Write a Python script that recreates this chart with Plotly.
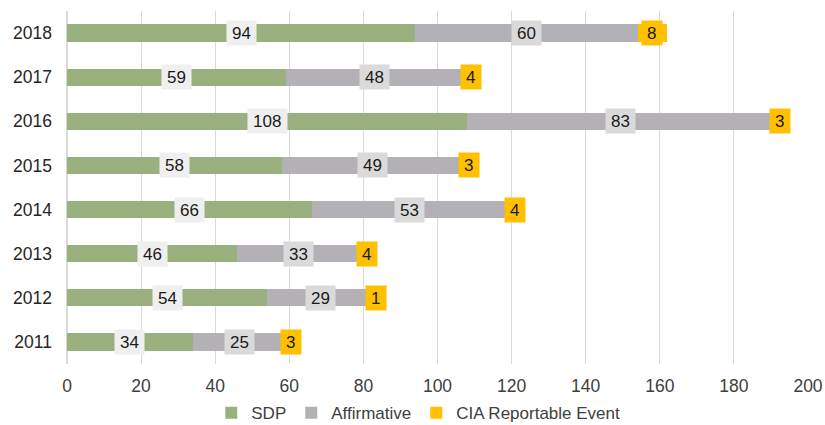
import plotly.graph_objects as go

years = ["2011", "2012", "2013", "2014", "2015", "2016", "2017", "2018"]
sdp = [34, 54, 46, 66, 58, 108, 59, 94]
affirmative = [25, 29, 33, 53, 49, 83, 48, 60]
cia = [3, 1, 4, 4, 3, 3, 4, 8]

series = [
    ("SDP", sdp, "#9BB07F", "#EFEFEF"),
    ("Affirmative", affirmative, "#B3B1B5", "#DADADA"),
    ("CIA Reportable Event", cia, "#FFC000", "#FFC000"),
]

fig = go.Figure()
annotations = []
base = [0] * len(years)
for name, vals, color, lblbg in series:
    fig.add_trace(go.Bar(
        y=years, x=vals, name=name, orientation="h",
        marker=dict(color=color, line=dict(width=0)),
    ))
    for i, v in enumerate(vals):
        txt = str(v)
        annotations.append(dict(
            x=base[i] + v / 2, y=i, xref="x", yref="y",
            text=txt, showarrow=False,
            font=dict(family="Liberation Sans, Arial", size=17, color="#1a1a1a"),
            bgcolor=lblbg, borderpad=0,
            width=9.5 * len(txt) + 10, height=24,
        ))
        base[i] += v

fig.update_layout(
    barmode="stack",
    bargap=0.61,
    width=825, height=425,
    margin=dict(l=67, r=17, t=11, b=61, autoexpand=False),
    paper_bgcolor="white", plot_bgcolor="white",
    font=dict(family="Liberation Sans, Arial", size=17, color="#333333"),
    xaxis=dict(range=[0, 200], dtick=20, showgrid=True, gridcolor="#D9D9D9",
               gridwidth=1, zeroline=True, zerolinecolor="#D9D9D9",
               showline=False, ticks="", ticklabelstandoff=9,
               tickfont=dict(size=17.5, color="#404040")),
    yaxis=dict(type="category", categoryorder="array", categoryarray=years,
               range=[-0.5, len(years) - 0.5],
               showgrid=False, ticks="", ticklabelstandoff=14,
               tickfont=dict(size=17.5, color="#262626")),
    legend=dict(orientation="h", x=0.507, xanchor="center", xref="container",
                y=0.028, yanchor="middle", yref="container",
                font=dict(size=17, color="#404040"), traceorder="normal",
                itemwidth=30),
    annotations=annotations,
    showlegend=True,
)

fig.write_html("out.html")
